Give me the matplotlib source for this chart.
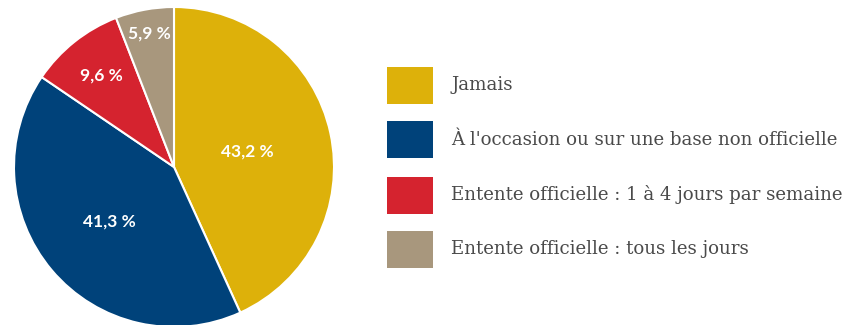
import numpy as np
import matplotlib
matplotlib.use("Agg")
import matplotlib.pyplot as plt
from matplotlib.patches import Rectangle

categories = [
    "Jamais",
    "À l'occasion ou sur une base non officielle",
    "Entente officielle : 1 à 4 jours par semaine",
    "Entente officielle : tous les jours",
]
values = [43.2, 41.3, 9.6, 5.9]
colors = ["#DDB10A", "#00427A", "#D5232F", "#A8977D"]
label_radii = [0.47, 0.53, 0.73, 0.85]

W, H = 848, 325
fig = plt.figure(figsize=(W / 100, H / 100), dpi=100)

# pie axes: radius 160 px, centred at (174, 167) from the top-left
ax = fig.add_axes([14 / W, (H - 327) / H, 320 / W, 320 / H])
wedges, _ = ax.pie(values, colors=colors, startangle=90, counterclock=False,
                   radius=1.0, wedgeprops=dict(edgecolor="white", linewidth=1.5))
ax.set_xlim(-1, 1)
ax.set_ylim(-1, 1)
ax.set_aspect("equal")
ax.axis("off")

for w, v, r in zip(wedges, values, label_radii):
    mid = np.deg2rad((w.theta1 + w.theta2) / 2)
    ax.text(r * np.cos(mid), r * np.sin(mid), f"{v:.1f} %".replace(".", ","),
            ha="center", va="center", color="white", fontsize=12.5,
            fontweight="bold", family="Lato")

# legend drawn in figure pixel coordinates
row_y = [85, 140, 195, 249]
for y, c, lab in zip(row_y, colors, categories):
    fig.add_artist(Rectangle(((387) / W, (H - y - 18.5) / H), 46 / W, 37 / H,
                             transform=fig.transFigure, color=c, lw=0))
    fig.text(451 / W, (H - y) / H, lab, ha="left", va="center",
             fontsize=13.1, color="#4a4a4a", family="DejaVu Serif")

fig.savefig("out.png", dpi=100)
